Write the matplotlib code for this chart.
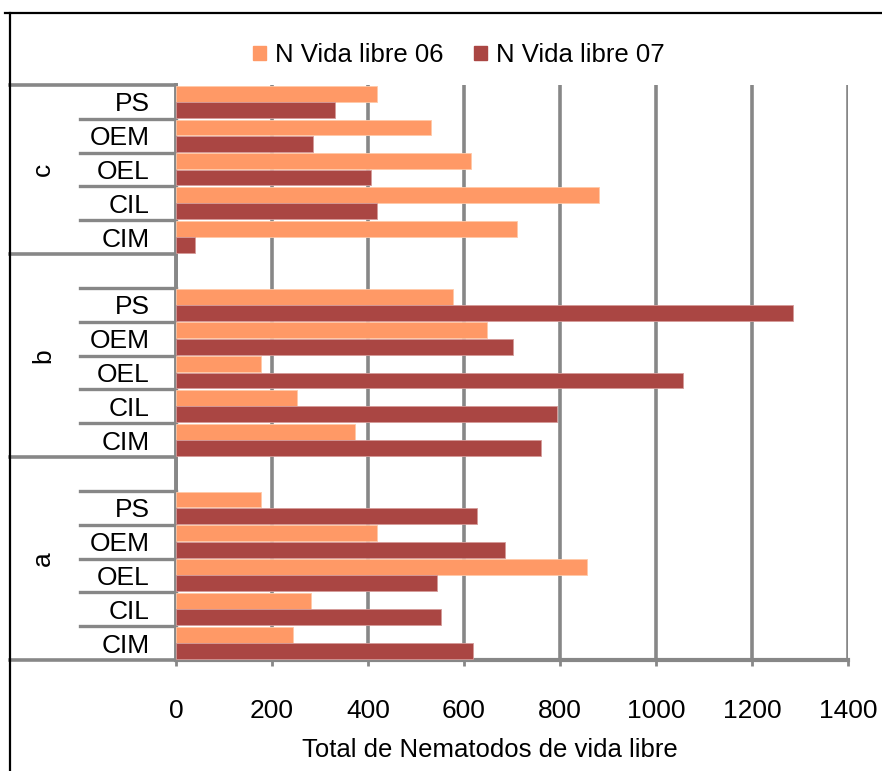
import numpy as np
import matplotlib.pyplot as plt
from matplotlib.lines import Line2D
from matplotlib.patches import Patch

# Datos (de abajo hacia arriba)
grupos = ['a', 'b', 'c']
categorias = ['CIM', 'CIL', 'OEL', 'OEM', 'PS']
vida06_a = [244, 281, 857, 419, 177]
vida07_a = [619, 552, 544, 686, 627]
vida06_b = [373, 252, 177, 648, 577]
vida07_b = [761, 794, 1056, 702, 1286]
vida06_c = [710, 881, 615, 531, 419]
vida07_c = [40, 418, 406, 286, 331]
serie06 = [vida06_a, vida06_b, vida06_c]
serie07 = [vida07_a, vida07_b, vida07_c]
xticks = [0, 200, 400, 600, 800, 1000, 1200, 1400]

naranja = '#FF9966'
rojo = '#AA4643'
gris = '#878787'
fuente = ['Liberation Sans', 'DejaVu Sans']
fuente_num = ['Liberation Sans Narrow', 'Liberation Sans', 'DejaVu Sans']
plt.rcParams['font.family'] = fuente

W, H = 882, 771
fig = plt.figure(figsize=(W / 100, H / 100), dpi=100)
ax = fig.add_axes([176 / W, 1 - 660 / H, (848 - 176) / W, (660 - 85) / H])

n = len(categorias)
pos, etiquetas = [], []
for g in range(len(grupos)):
    y = np.arange(n) + 6 * g
    ax.barh(y + 0.245, serie06[g], height=0.47, color=naranja,
            edgecolor='#FFC9A8', linewidth=0.6, zorder=3)
    ax.barh(y - 0.235, serie07[g], height=0.47, color=rojo,
            edgecolor='#D49A98', linewidth=0.6, zorder=3)
    pos += list(y)
    etiquetas += categorias

ax.set_xlim(0, 1400)
ax.set_ylim(-0.5, 16.5)
ax.set_xticks(xticks)
ax.set_xticklabels([str(v) for v in xticks], family=fuente_num, fontsize=19)
ax.set_yticks(pos)
ax.set_yticklabels(etiquetas, fontsize=19)
ax.tick_params(axis='y', length=0, pad=19)
ax.tick_params(axis='x', length=4, width=2, color=gris, pad=24, direction='out')
ax.grid(axis='x', color=gris, linewidth=2.6, zorder=0)
ax.set_axisbelow(True)

for lado in ['top', 'right']:
    ax.spines[lado].set_visible(False)
ax.spines['left'].set_color(gris)
ax.spines['left'].set_linewidth(2.8)
ax.spines['bottom'].set_color(gris)
ax.spines['bottom'].set_linewidth(3)

# separadores de categorías a la izquierda
tr = ax.get_yaxis_transform()
x_in = (80 - 176) / 672
x_out = (10 - 176) / 672
for g in range(len(grupos)):
    for j in range(n - 1):
        yy = 6 * g + j + 0.5
        ax.plot([x_in, 0], [yy, yy], color=gris, lw=2.4, transform=tr, clip_on=False)
    if g < 2:
        ax.plot([x_in, 0], [6 * g + 4.5, 6 * g + 4.5], color=gris, lw=2.4, transform=tr, clip_on=False)
for yy in [-0.5, 5.5, 11.5, 16.5]:
    ax.plot([x_out, 0], [yy, yy], color=gris, lw=2.6, transform=tr, clip_on=False)

# etiquetas de grupo, centradas en cada bloque
limites = [(-0.5, 5.5), (5.5, 11.5), (11.5, 16.5)]
for nombre, (y0, y1) in zip(grupos, limites):
    ax.text((43 - 176) / 672, (y0 + y1) / 2, nombre, transform=tr,
            rotation=90, ha='center', va='center', fontsize=19)

ax.set_xlabel('Total de Nematodos de vida libre', fontsize=18.5)
ax.xaxis.set_label_coords((490 - 176) / 672, -(750 - 660) / 575)
ax.xaxis.label.set_va('center')

# marco
fig.add_artist(Line2D([5 / W, 1], [1 - 13 / H, 1 - 13 / H], color='black', lw=1.6))
fig.add_artist(Line2D([10 / W, 10 / W], [1 - 13 / H, 0], color='black', lw=1.6))

handles = [Patch(color=naranja), Patch(color=rojo)]
fig.legend(handles, ['N Vida libre 06', 'N Vida libre 07'], loc='center',
           bbox_to_anchor=(459 / W, 1 - 55 / H), ncol=2, frameon=False,
           fontsize=18.5, handlelength=0.5, handleheight=0.5, handletextpad=0.35,
           columnspacing=1.2)

fig.savefig('out.png', dpi=100)
